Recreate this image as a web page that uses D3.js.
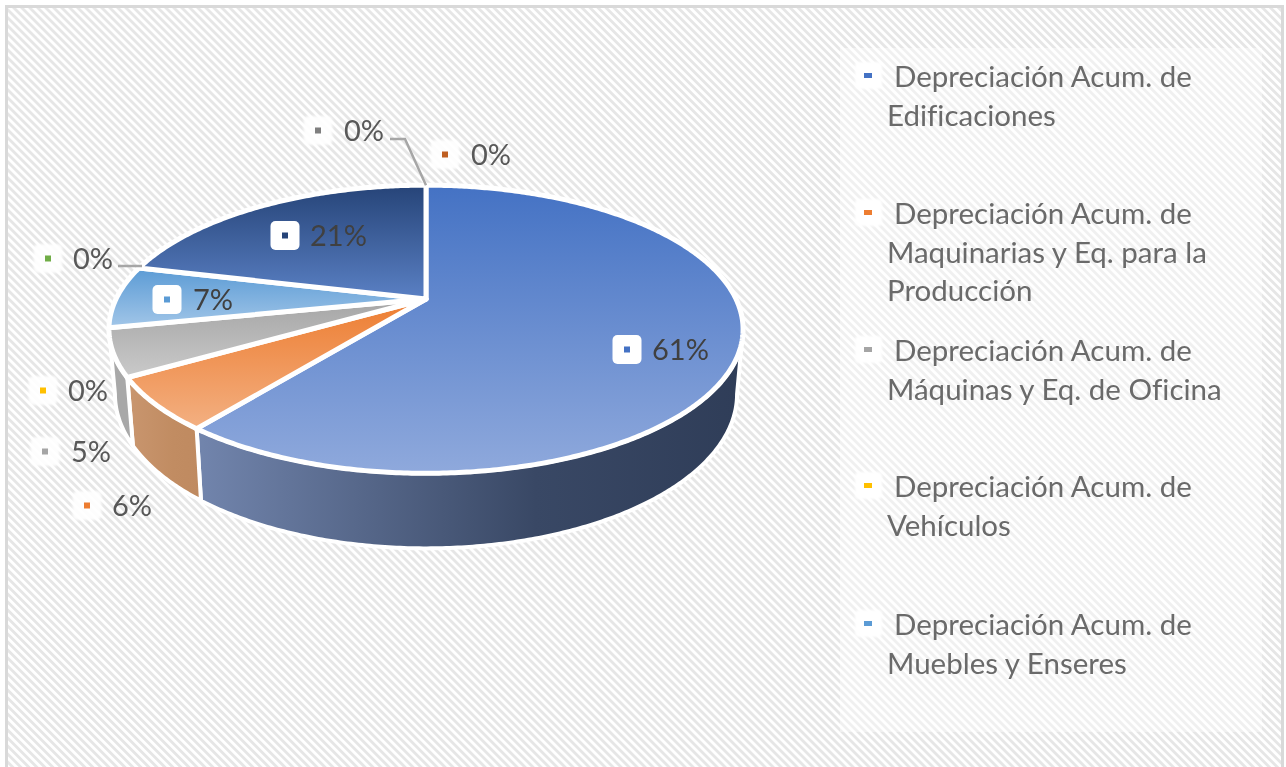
<!DOCTYPE html>
<html>
<head>
<meta charset="utf-8">
<script src="https://cdn.jsdelivr.net/npm/d3@7"></script>
<style>
  html, body { margin: 0; padding: 0; background: #fff; }
  svg { display: block; }
  text { font-family: Lato, "Open Sans", sans-serif; fill: #595959; font-variant-ligatures: none; }
</style>
</head>
<body>
<div id="chart"></div>
<script>
// slice order follows the workbook, clockwise from 12 o'clock
var sliceValues = [60.6, 5.9, 5.3, 0, 7, 0, 21.2, 0, 0];
var sliceColors = ["#4472C4", "#ED7D31", "#A5A5A5", "#FFC000", "#5B9BD5", "#70AD47", "#264478", "#7F7F7F", "#BF5F22"];
var sliceLight = ["#8FA9DC", "#F3B082", "#CACACA", "#FFD966", "#A2C6E8", "#A9D18E", "#5A80C4", "#A0A0A0", "#C97A45"];
var sideLeft = ["#7285AD", "#C9966F", "#A8A8A8", "#FFC000", "#5B9BD5", "#70AD47", "#264478", "#636363", "#9E480E"];
var sideRight = ["#2F3D58", "#BF8A60", "#A8A8A8", "#FFC000", "#5B9BD5", "#70AD47", "#264478", "#636363", "#9E480E"];

// only five of the series names are visible, the legend is cut off
var legendNames = [
  ["Depreciación Acum. de", "Edificaciones"],
  ["Depreciación Acum. de", "Maquinarias y Eq. para la", "Producción"],
  ["Depreciación Acum. de", "Máquinas y Eq. de Oficina"],
  ["Depreciación Acum. de", "Vehículos"],
  ["Depreciación Acum. de", "Muebles y Enseres"]
];

var width = 1286, height = 767;

// label placement in the original was dragged by hand: marker centre x, text x, text y
var labelPlaces = [
  [627, 652, 350], [87, 112, 506], [45, 71, 452], [43, 68, 391], [167, 193, 300],
  [48, 73, 259], [285, 310, 236], [318, 344, 131], [445, 471, 155]
];
var legendLineY = [[76, 115], [213, 252, 290], [350, 389], [486, 525], [624, 663]];

var svg = d3.select("#chart").append("svg").attr("width", width).attr("height", height);
var defs = svg.append("defs");

var hatch = defs.append("pattern").attr("id", "hatch").attr("patternUnits", "userSpaceOnUse")
  .attr("width", 5.66).attr("height", 5.66).attr("patternTransform", "rotate(45)");
hatch.append("rect").attr("width", 5.66).attr("height", 5.66).attr("fill", "#fff");
hatch.append("rect").attr("width", 5.66).attr("height", 2.8).attr("fill", "#E6E6E6");

defs.append("filter").attr("id", "soft").append("feGaussianBlur").attr("stdDeviation", 0.45);
defs.append("filter").attr("id", "glow").append("feGaussianBlur").attr("stdDeviation", 1.2);
defs.append("clipPath").attr("id", "page").append("rect")
  .attr("width", width).attr("height", height);

// frame and chart area
svg.append("rect").attr("x", 6.5).attr("y", 6.5).attr("width", 1276).attr("height", 770)
  .attr("fill", "url(#hatch)").attr("stroke", "#D9D9D9").attr("stroke-width", 3);

// legend sits on a translucent white panel
svg.append("rect").attr("x", 840).attr("y", 48).attr("width", 422).attr("height", 684)
  .attr("fill", "#fff").attr("fill-opacity", 0.42);

// The pie is tilted in perspective, so the centre is not the ellipse centre.
// u, v are positions on the unit circle, persp is the projective divisor.
var persp = -0.2098;
var xScale = d3.scaleLinear().domain([-1, 1]).range([426 - 310, 426 + 310]);
var yScale = d3.scaleLinear().domain([-1, 1]).range([299 - 75, 299 + 75]);

function projectTop(angle) {
  var u = Math.sin(angle), v = -Math.cos(angle), w = 1 + persp * v;
  return [xScale(u / w), yScale(v) / w];
}
var lowX = d3.scaleLinear().domain([426 - 317, 426 + 317]).range([426 - 311, 426 + 311]);
var lowY = d3.scaleLinear().domain([329, 472]).range([394, 547]);
function projectLow(angle) {
  var p = projectTop(angle);
  return [lowX(p[0]), lowY(p[1])];
}

var pie = d3.pie().sort(null).startAngle(0).endAngle(2 * Math.PI);
var arcs = pie(sliceValues).map(function (d, i) { d.index = i; return d; })
  .filter(function (d) { return d.value > 0; });

function sweep(a0, a1, fn) {
  var n = Math.max(2, Math.ceil((a1 - a0) / 0.01));
  return d3.range(n + 1).map(function (k) { return fn(a0 + (a1 - a0) * k / n); });
}

var line = d3.line();
var silhouetteR = Math.acos(persp);   // right edge of the ellipse, sides start from here
var silhouetteL = 2 * Math.PI - silhouetteR;

arcs.forEach(function (d) {
  var top = defs.append("linearGradient").attr("id", "top" + d.index)
    .attr("x1", 0).attr("y1", 0).attr("x2", 0).attr("y2", 1);
  top.append("stop").attr("offset", 0).attr("stop-color", sliceColors[d.index]);
  top.append("stop").attr("offset", 1).attr("stop-color", sliceLight[d.index]);

  var side = defs.append("linearGradient").attr("id", "side" + d.index)
    .attr("x1", 0).attr("y1", 0).attr("x2", 1).attr("y2", 0);
  side.append("stop").attr("offset", 0).attr("stop-color", sideLeft[d.index]);
  side.append("stop").attr("offset", 0.62).attr("stop-color", d3.interpolateRgb(sideLeft[d.index], sideRight[d.index])(0.85));
  side.append("stop").attr("offset", 1).attr("stop-color", sideRight[d.index]);
});

// walls first, only the near half of the ring is visible
var walls = arcs.filter(function (d) {
  return d.endAngle > silhouetteR && d.startAngle < silhouetteL;
});
svg.append("g").selectAll("path").data(walls).join("path")
  .attr("d", function (d) {
    var a0 = Math.max(d.startAngle, silhouetteR), a1 = Math.min(d.endAngle, silhouetteL);
    return line(sweep(a0, a1, projectTop).concat(sweep(a0, a1, projectLow).reverse())) + "Z";
  })
  .attr("fill", function (d) { return "url(#side" + d.index + ")"; })
  .attr("stroke", "#fff").attr("stroke-width", 4).attr("stroke-linejoin", "round");

svg.append("g").selectAll("path").data(arcs).join("path")
  .attr("d", function (d) {
    var pts = sweep(d.startAngle, d.endAngle, projectTop);
    pts.push([426, 299]);
    return line(pts) + "Z";
  })
  .attr("fill", function (d) { return "url(#top" + d.index + ")"; })
  .attr("stroke", "#fff").attr("stroke-width", 5).attr("stroke-linejoin", "round");

// leader lines for the two labels pulled off the pie
var leaders = svg.append("g").attr("fill", "none").attr("stroke", "#A6A6A6").attr("stroke-width", 2.5);
leaders.append("path").attr("d", line([[390, 139], [405, 139], projectTop(2 * Math.PI)]));
leaders.append("path").attr("d", line([[118, 266], [142, 266]]));

// data labels
var fmt = function (v) { return d3.format(".0f")(v) + "%"; };
var insidePie = [true, false, false, false, true, false, true, false, false];
var labels = svg.append("g").selectAll("g").data(sliceValues).join("g");

labels.append("rect")
  .attr("x", function (d, i) { return labelPlaces[i][0] - 14.5; })
  .attr("y", function (d, i) { return labelPlaces[i][2] - 15; })
  .attr("width", 29).attr("height", 29).attr("rx", 5)
  .attr("fill", "#fff")
  .attr("fill-opacity", function (d, i) { return insidePie[i] ? 1 : 0.9; })
  .attr("filter", function (d, i) { return insidePie[i] ? null : "url(#glow)"; });
labels.append("rect")
  .attr("x", function (d, i) { return labelPlaces[i][0] - 3; })
  .attr("y", function (d, i) { return labelPlaces[i][2] - 3.5; })
  .attr("width", 6).attr("height", 6)
  .attr("fill", function (d, i) { return sliceColors[i]; });
labels.append("text")
  .attr("x", function (d, i) { return labelPlaces[i][1]; })
  .attr("y", function (d, i) { return labelPlaces[i][2]; })
  .attr("dy", "0.36em")
  .attr("font-size", 29)
  .attr("filter", "url(#soft)")
  .style("fill", function (d, i) { return insidePie[i] ? "#404040" : "#595959"; })
  .text(fmt);

// legend
var legend = svg.append("g").selectAll("g").data(legendNames).join("g");
legend.append("rect")
  .attr("x", 855).attr("y", function (d, i) { return legendLineY[i][0] - 14; })
  .attr("width", 27).attr("height", 27).attr("rx", 4)
  .attr("fill", "#fff").attr("filter", "url(#glow)");
legend.append("rect")
  .attr("x", 864).attr("y", function (d, i) { return legendLineY[i][0] - 3; })
  .attr("width", 8).attr("height", 5)
  .attr("fill", function (d, i) { return sliceColors[i]; });
legend.selectAll("text").data(function (d, i) {
  return d.map(function (t, k) { return { t: t, y: legendLineY[i][k], first: k === 0 }; });
}).join("text")
  .attr("x", function (d) { return d.first ? 894 : 887; })
  .attr("y", function (d) { return d.y; })
  .attr("dy", "0.36em")
  .attr("font-size", 29.5)
  .attr("filter", "url(#soft)")
  .style("fill", "#6A6A6A")
  .text(function (d) { return d.t; });
</script>
</body>
</html>
